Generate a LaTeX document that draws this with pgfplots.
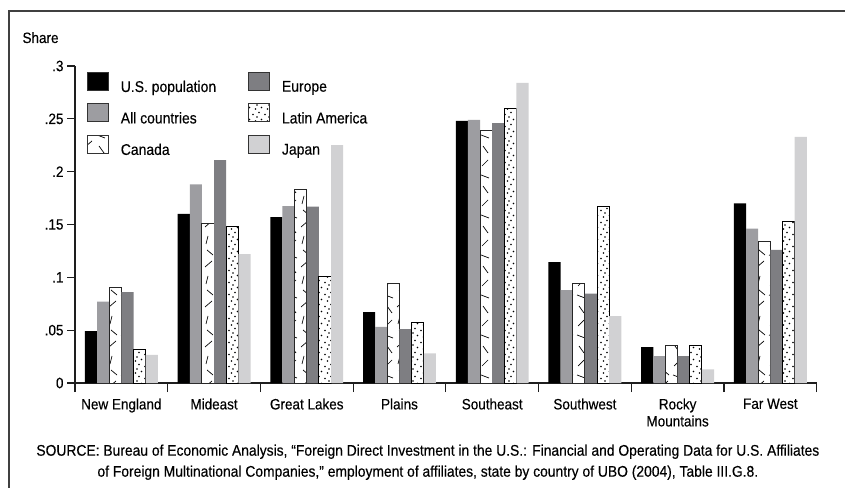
\documentclass[border=0pt]{standalone}
\usepackage{fontspec}
\setmainfont[FakeStretch=0.9, FakeBold=0.3]{Liberation Sans}
\usepackage{pgfplots}
\usepackage{pgfplotstable}
\pgfplotsset{compat=1.18}
\usetikzlibrary{patterns}

\definecolor{allc}{RGB}{157,157,161}
\definecolor{europe}{RGB}{126,126,130}
\definecolor{japan}{RGB}{209,209,211}
\definecolor{axisc}{RGB}{30,30,30}

\pgfdeclarepatternformonly{canadap}{\pgfpoint{-1bp}{-1bp}}{\pgfpoint{25bp}{41bp}}{\pgfpoint{24bp}{40bp}}{%
  \pgfsetlinewidth{0.7bp}%
  \pgfpathmoveto{\pgfpoint{2bp}{2bp}}\pgfpathlineto{\pgfpoint{8bp}{8bp}}%
  \pgfpathmoveto{\pgfpoint{3bp}{22bp}}\pgfpathlineto{\pgfpoint{8bp}{15bp}}%
  \pgfpathmoveto{\pgfpoint{1bp}{33bp}}\pgfpathlineto{\pgfpoint{9bp}{30bp}}%
  \pgfpathmoveto{\pgfpoint{14bp}{4bp}}\pgfpathlineto{\pgfpoint{16bp}{12bp}}%
  \pgfpathmoveto{\pgfpoint{13bp}{21bp}}\pgfpathlineto{\pgfpoint{20bp}{27bp}}%
  \pgfpathmoveto{\pgfpoint{15bp}{38bp}}\pgfpathlineto{\pgfpoint{21bp}{33bp}}%
  \pgfusepath{stroke}%
}
\pgfdeclarepatternformonly{latdots}{\pgfpoint{-1bp}{-1bp}}{\pgfpoint{13bp}{13bp}}{\pgfpoint{12bp}{12bp}}{%
  \pgfpathcircle{\pgfpoint{1bp}{1.5bp}}{0.8bp}%
  \pgfpathcircle{\pgfpoint{7bp}{3.5bp}}{0.8bp}%
  \pgfpathcircle{\pgfpoint{3.5bp}{7bp}}{0.8bp}%
  \pgfpathcircle{\pgfpoint{9.5bp}{8.5bp}}{0.8bp}%
  \pgfpathcircle{\pgfpoint{5bp}{11bp}}{0.8bp}%
  \pgfusepath{fill}%
}

\pgfplotstableread{
x us allc canada europe latam japan
0 0.049 0.077 0.090 0.086 0.032 0.0265
1 0.160 0.188 0.151 0.211 0.148 0.122
2 0.157 0.1675 0.183 0.167 0.101 0.225
3 0.067 0.053 0.0937 0.051 0.0574 0.028
4 0.248 0.249 0.239 0.246 0.260 0.284
5 0.1145 0.088 0.0937 0.0845 0.167 0.0634
6 0.034 0.0255 0.0353 0.0255 0.0353 0.013
7 0.170 0.146 0.134 0.126 0.153 0.233
}\datatable

\newcommand{\chartfont}{\fontsize{15bp}{17bp}\selectfont}

\begin{document}
\begin{tikzpicture}
\path[use as bounding box] (-75bp,-105bp) rectangle (770bp,383bp);
\draw[line width=1.5bp, black!75] (-66bp,-120bp) -- (-66bp,372bp) -- (780bp,372bp);
\begin{axis}[
  at={(0bp,0bp)}, anchor=south west,
  scale only axis, width=741.7bp, height=317bp,
  xmin=-0.5, xmax=7.5, ymin=0, ymax=0.3,
  clip=false,
  axis lines*=left,
  axis line style={line width=1.2bp, axisc},
  every tick/.style={line width=1.2bp, axisc},
  tick align=outside,
  major tick length=8bp, minor tick length=9bp,
  ybar=0pt, bar width=0.131,
  xtick={0,...,7},
  xticklabels={New England,Mideast,Great Lakes,Plains,Southeast,Southwest,Rocky\\Mountains,Far West},
  minor xtick={-0.5,0.5,...,7.5},
  major x tick style={draw=none},
  ytick={0,0.05,0.1,0.15,0.2,0.25,0.3},
  yticklabels={0,.05,.1,.15,.2,.25,.3},
  /pgf/number format/assume math mode=true,
  tick label style={font=\chartfont},
  xticklabel style={align=center, yshift=-4bp},
  legend columns=3, transpose legend,
  legend cell align=left,
  legend style={draw=none, fill=none, inner sep=0pt, outer sep=0pt,
    at={(rel axis cs:0,1)}, anchor=north west, xshift=12bp, yshift=-6bp,
    row sep=10bp, font=\fontsize{15.5bp}{17bp}\selectfont,
    nodes={inner sep=0pt},
    /tikz/every odd column/.append style={column sep=12bp},
    /tikz/every even column/.append style={column sep=32bp}},
  legend image code/.code={\draw[#1, draw=black!80, line width=0.8bp] (0bp,-3.3bp) rectangle (21bp,14.7bp);},
]
\addplot[fill=black, draw=none] table[x=x, y=us] {\datatable};
\addplot[fill=allc, draw=none] table[x=x, y=allc] {\datatable};
\addplot[fill=white, draw=black!85, line width=1bp, postaction={pattern=canadap}] table[x=x, y=canada] {\datatable};
\addplot[fill=europe, draw=none] table[x=x, y=europe] {\datatable};
\addplot[fill=white, draw=black, line width=1bp, postaction={pattern=latdots}] table[x=x, y=latam] {\datatable};
\addplot[fill=japan, draw=none] table[x=x, y=japan] {\datatable};
\legend{U.S. population, All countries, Canada, Europe, Latin America, Japan}
\node[anchor=base west, font=\fontsize{15bp}{18bp}\selectfont] at (rel axis cs:0,1) [xshift=-56bp, yshift=23bp] {Share};
\node[anchor=north, align=center, font=\fontsize{15.4bp}{21bp}\selectfont] at (rel axis cs:0.5,0) [yshift=-58bp, xshift=-18bp]
  {SOURCE: Bureau of Economic Analysis, “Foreign Direct Investment in the U.S.: Financial and Operating Data for U.S. Affiliates\\
   of Foreign Multinational Companies,” employment of affiliates, state by country of UBO (2004), Table III.G.8.};
\end{axis}
\end{tikzpicture}
\end{document}
